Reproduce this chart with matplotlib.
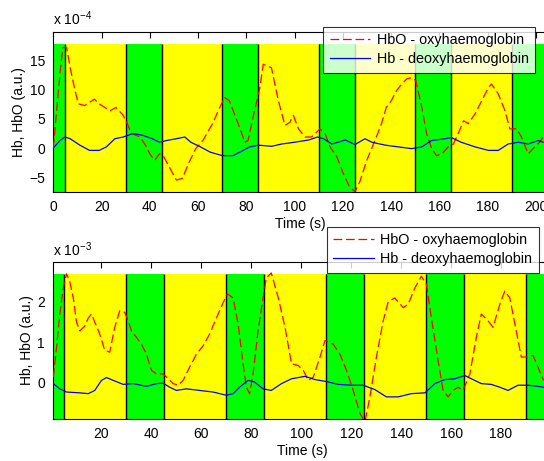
import matplotlib
matplotlib.use("Agg")
import matplotlib.pyplot as plt
import numpy as np

plt.rcParams['font.family'] = ['Liberation Sans', 'DejaVu Sans']
plt.rcParams['font.size'] = 10

# Stimulus blocks (s): green = rest, yellow = task
block_edges = [0, 5, 30, 45, 70, 85, 110, 125, 150, 165, 190, 210]
block_colors = ['#00ff00', '#ffff00'] * 6

# ---- Top panel (x 1e-4) ----
t_hbo1 = [0, 3, 4, 5.5, 7, 9, 10.4, 13, 17, 19, 23.5, 26, 29, 30.4, 32.4, 36, 38.6, 40, 42, 44, 45.5, 48, 51, 53.5,
          56, 59, 62, 66, 69, 71, 73, 76.6, 79.4, 80.7, 82.8, 85.6, 87, 90.4, 93.3, 96, 98, 99.5, 101.6, 104.3, 107,
          109, 110.5, 112.6, 114.7, 117.5, 120.2, 122.8, 125, 127, 129.9, 133.3, 136, 138, 140, 142.3, 144.4, 146.5,
          148.5, 150.2, 152.7, 154.7, 156.8, 158.8, 161, 163.7, 165.8, 167.8, 170, 172, 174.8, 177.5, 180.3, 181.6,
          184.4, 187.2, 189.2, 192, 194, 196.8, 199.5, 201.5, 203]
hbo1 = [0, 13.8, 17.3, 17.3, 13.8, 9.9, 7.6, 7.3, 8.4, 7.6, 6.4, 7.0, 5.6, 4.4, 2.5, 1.9, 0.2, -1.0, -2.1, -1.0, -1.3,
        -3.2, -5.5, -5.2, -2.7, -0.1, 1.3, 4.2, 7.0, 8.7, 8.1, 4.2, 1.0, 1.3, 5.3, 10.4, 14.4, 13.8, 8.1, 3.9, 4.4,
        5.6, 3.3, 1.9, 1.9, 2.7, 3.3, 2.5, 0.2, -1.5, -4.4, -6.7, -7.5, -5.8, -2.1, 1.3, 4.2, 7.0, 8.1, 9.9, 11.0,
        11.9, 12.1, 11.6, 7.0, 2.5, -0.1, -1.3, -1.0, 0.2, 0.7, 2.5, 4.7, 4.2, 5.9, 8.1, 10.4, 11.0, 9.3, 6.4, 3.3,
        3.3, 1.9, -1.0, 0.2, 1.0, 1.9]
t_hb1 = [0.4, 2.8, 4.8, 7, 11, 15, 19, 22, 25.5, 29, 33, 37, 41, 44, 47, 51, 54.5, 57, 61, 65, 70, 74.5, 77.3, 81.4,
         85, 90.5, 94.7, 100, 106, 109.5, 112, 115.4, 118, 121, 125, 129.2, 132, 137.6, 143, 148.5, 152.7, 156.8,
         162.3, 165, 169, 174.8, 180.3, 184.4, 188.5, 192.7, 196.8, 201, 203]
hb1 = [0.2, 1.3, 1.9, 1.6, 0.5, -0.4, -0.4, 0.2, 1.6, 1.9, 2.5, 2.2, 1.6, 1.0, 1.3, 1.6, 1.9, 1.0, 0.2, -0.7, -1.3,
       -1.3, -0.7, 0.2, 0.5, 0.3, 0.7, 1.0, 1.4, 1.9, 1.6, 0.7, 1.0, 1.4, 0.6, 1.6, 1.0, 0.5, 0.2, -0.1, 0.2, 1.3,
       1.6, 1.8, 1.0, 0.2, -0.4, -0.4, 0.7, 1.0, 0.7, 1.3, 1.0]

# ---- Bottom panel (x 1e-3) ----
t_hbo2 = [0.7, 2, 3.3, 4.7, 6, 7.3, 8.7, 10, 11.3, 13.3, 14.7, 16, 17.3, 19.3, 21.3, 23.3, 25.3, 27.3, 29.3, 30.7,
          32, 34, 36, 38, 40, 42, 44.7, 48.7, 50.7, 52.7, 55.3, 58, 60.7, 63.3, 66, 68.7, 70.4, 72.7, 74.7, 76.7,
          78, 79.3, 80.7, 82.7, 84.7, 86, 88, 90.8, 93.5, 96.1, 98.8, 100.8, 102.8, 104.8, 107.5, 109.5, 112.8,
          115.5, 118.1, 120.8, 123.5, 125.5, 127.5, 130.1, 132.8, 134.8, 137.4, 140.8, 142.8, 145.5, 148.1, 150.1,
          152.1, 154.8, 156.8, 158.8, 160.8, 162.8, 164.8, 167.5, 170.1, 172.1, 174.8, 176.8, 179.5, 181.5, 183.5,
          186.1, 188.1, 190.8, 192.8, 194.8, 197]
hbo2 = [0.13, 0.87, 1.7, 2.35, 2.7, 2.5, 2.1, 1.5, 1.28, 1.4, 1.6, 1.7, 1.5, 1.2, 0.8, 0.75, 1.37, 1.78, 1.74, 1.53,
        1.28, 1.12, 0.95, 0.7, 0.3, 0.21, 0.21, -0.03, -0.07, 0.05, 0.38, 0.7, 0.91, 1.2, 1.6, 1.98, 2.2, 2.1, 1.45,
        0.46, -0.12, -0.28, 0.21, 1.28, 2.1, 2.6, 2.72, 2.1, 1.37, 0.46, 0.42, 0.3, 0.05, 0.13, 0.63, 1.04, 0.95,
        0.7, 0.3, -0.2, -0.77, -0.98, -0.36, 0.63, 1.53, 2.0, 2.1, 1.86, 1.94, 2.35, 2.64, 2.44, 1.6, 0.54, -0.2,
        -0.36, -0.2, -0.12, -0.2, 0.21, 1.12, 1.7, 1.53, 1.37, 1.94, 2.27, 2.1, 1.28, 0.63, 0.63, 0.67, 0.38, 0.05]
t_hb2 = [0.7, 3.3, 6, 11.3, 14.7, 17.3, 20, 22, 24.7, 28.7, 32.7, 38, 42, 44.7, 47.3, 50, 54, 59.3, 64.7, 70, 72.7,
         75.3, 78.7, 81.3, 84.7, 88, 92.1, 96.1, 101.5, 105.5, 110.1, 114.8, 120.1, 124.8, 129.5, 134.1, 138.8,
         144.1, 149.5, 153.5, 157.5, 161.5, 165.5, 168.1, 172.1, 176.1, 179.5, 182.8, 186.8, 190.8, 194.8, 197]
hb2 = [-0.03, -0.16, -0.24, -0.26, -0.28, -0.2, 0.05, 0.12, 0.05, -0.05, -0.03, -0.1, -0.03, -0.02, -0.12, -0.2,
       -0.16, -0.2, -0.24, -0.32, -0.28, -0.12, 0.05, 0.01, -0.16, -0.2, -0.03, 0.09, 0.15, 0.07, 0.02, -0.05,
       -0.07, -0.07, -0.18, -0.36, -0.36, -0.28, -0.26, -0.03, 0.07, 0.09, 0.17, 0.09, -0.03, -0.05, -0.12, -0.2,
       -0.07, -0.07, -0.1, -0.12]

x_ticks1 = [0, 20, 40, 60, 80, 100, 120, 140, 160, 180, 200]
y_ticks1 = [-5, 0, 5, 10, 15]
x_ticks2 = [20, 40, 60, 80, 100, 120, 140, 160, 180]
y_ticks2 = [0, 1, 2]

fig = plt.figure(figsize=(5.44, 4.61), dpi=100)
W, H = 544.0, 461.0


def make_axes(left_px, top_px, right_px, bottom_px):
    return fig.add_axes([left_px / W, 1 - bottom_px / H, (right_px - left_px) / W, (bottom_px - top_px) / H])


def draw_panel(ax, t_hbo, hbo, t_hb, hb, xlim, ylim, patch_top, xticks, yticks, expo, legend_box):
    ax.set_xlim(*xlim)
    ax.set_ylim(*ylim)
    lo = ylim[0]
    for i in range(len(block_edges) - 1):
        a, b = block_edges[i], block_edges[i + 1]
        ax.fill_between([a, b], [lo, lo], [patch_top, patch_top], color=block_colors[i], lw=0, zorder=1)
    ax.vlines(block_edges[1:-1], lo, patch_top, color='black', lw=1.0, zorder=2)
    l1, = ax.plot(t_hbo, hbo, color='#ff0000', lw=0.9, dashes=(7, 3), zorder=3,
                  label='HbO - oxyhaemoglobin')
    l2, = ax.plot(t_hb, hb, color='#0000ff', lw=0.9, zorder=3, label='Hb - deoxyhaemoglobin')
    ax.set_xticks(xticks)
    ax.set_yticks(yticks)
    ax.set_axisbelow(True)
    ax.tick_params(direction='in', top=True, right=True, length=4, width=0.8, pad=6, labelsize=10)
    ax.set_xlabel('Time (s)', labelpad=2)
    ax.set_ylabel('Hb, HbO (a.u.)', labelpad=2)
    ax.text(0.0, 1.02, 'x 10$^{\\mathregular{%d}}$' % expo, transform=ax.transAxes, ha='left', va='bottom',
            fontsize=10)
    leg = fig.legend(handles=[l1, l2], loc='upper left', bbox_to_anchor=legend_box,
                     bbox_transform=fig.transFigure, frameon=True, fancybox=False, edgecolor='black',
                     handlelength=2.8, handletextpad=0.45, borderpad=0.45, labelspacing=0.35, fontsize=10.4,
                     borderaxespad=0)
    leg.get_frame().set_linewidth(0.8)
    return ax


ax1 = make_axes(53.3, 31.7, 548.0, 191.7)
draw_panel(ax1, t_hbo1, hbo1, t_hb1, hb1, (0, 205), (-7.5, 20), 17.8, x_ticks1, y_ticks1, -4,
           (323.3 / W, 1 - 26.7 / H))

ax2 = make_axes(53.3, 261.7, 551.0, 419.0)
draw_panel(ax2, t_hbo2, hbo2, t_hb2, hb2, (0.7, 200), (-0.91, 3.0), 2.7, x_ticks2, y_ticks2, -3,
           (326.7 / W, 1 - 226.7 / H))

fig.savefig('out.png', dpi=100)
